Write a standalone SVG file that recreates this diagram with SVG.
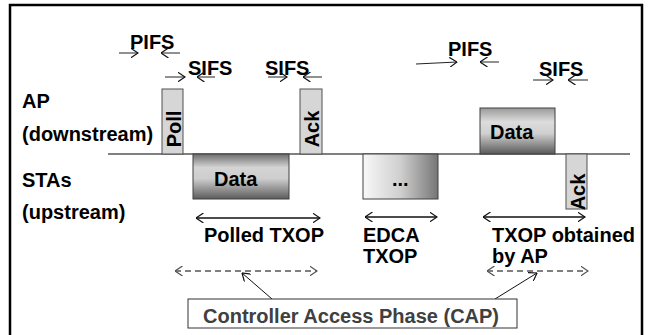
<svg xmlns="http://www.w3.org/2000/svg" width="649" height="335" viewBox="0 0 649 335">
<defs>
<style>
text{font-family:"Liberation Sans",Arial,Helvetica,sans-serif;font-weight:bold;font-size:20px;fill:#000}
.frame{fill:#d6d6d6;stroke:#505050;stroke-width:1}
.grad{stroke:#404040;stroke-width:1}
.tick{stroke:#222;stroke-width:1;fill:none}
.span{stroke:#111;stroke-width:1.3;fill:none}
.dash{stroke:#555;stroke-width:1.6;stroke-dasharray:6 4;fill:none}
.ptr{stroke:#111;stroke-width:1;fill:none}
</style>
<linearGradient id="gV" x1="0" y1="0" x2="0" y2="1">
<stop offset="0" stop-color="#6e6e6e"/>
<stop offset="0.3" stop-color="#d4d4d4"/>
<stop offset="0.55" stop-color="#cdcdcd"/>
<stop offset="1" stop-color="#5c5c5c"/>
</linearGradient>
<linearGradient id="gV2" x1="0" y1="0" x2="0" y2="1">
<stop offset="0" stop-color="#9a9a9a"/>
<stop offset="0.3" stop-color="#dcdcdc"/>
<stop offset="0.55" stop-color="#d0d0d0"/>
<stop offset="1" stop-color="#5a5a5a"/>
</linearGradient>
<linearGradient id="gH" x1="0" y1="0" x2="1" y2="0">
<stop offset="0" stop-color="#f8f8f8"/>
<stop offset="0.5" stop-color="#cfcfcf"/>
<stop offset="1" stop-color="#767676"/>
</linearGradient>
<marker id="ah" viewBox="0 0 8 10" refX="7.5" refY="5" markerWidth="8" markerHeight="10" markerUnits="userSpaceOnUse" orient="auto-start-reverse">
<path d="M0,0 L7.5,5 L0,10" fill="none" stroke="#111" stroke-width="1.2"/>
</marker>
<marker id="ahg" viewBox="0 0 8 10" refX="7.5" refY="5" markerWidth="8" markerHeight="10" markerUnits="userSpaceOnUse" orient="auto-start-reverse">
<path d="M0,0 L7.5,5 L0,10" fill="none" stroke="#555" stroke-width="1.3"/>
</marker>
</defs>
<rect x="0" y="0" width="649" height="335" fill="#fff"/>
<path d="M10,340 L10,5 L642,5 L642,340" fill="none" stroke="#000" stroke-width="2.5"/>

<g id="labels">
<text x="22" y="108">AP</text>
<text x="22" y="141">(downstream)</text>
<text x="22" y="187">STAs</text>
<text x="22" y="219">(upstream)</text>
</g>

<g id="timeline">
<line x1="108" y1="154" x2="630" y2="154" stroke="#808080" stroke-width="2"/>
</g>

<g id="poll">
<rect class="frame" x="162" y="89" width="21" height="65"/>
<text transform="translate(181,129) rotate(-90)" text-anchor="middle">Poll</text>
</g>
<g id="ack-ap">
<rect class="frame" x="300" y="89" width="22" height="65"/>
<text transform="translate(319,129) rotate(-90)" text-anchor="middle">Ack</text>
</g>
<g id="data-sta">
<rect class="grad" x="193" y="154" width="96" height="45" fill="url(#gV)"/>
<text x="214" y="186">Data</text>
</g>
<g id="edca">
<rect class="grad" x="363" y="154" width="75" height="45" fill="url(#gH)"/>
<text x="392" y="186">...</text>
</g>
<g id="data-ap">
<rect class="grad" x="480" y="108" width="75" height="46" fill="url(#gV2)"/>
<text x="490" y="139">Data</text>
</g>
<g id="ack-sta">
<rect class="frame" x="566" y="154" width="21" height="55"/>
<text transform="translate(585,192) rotate(-90)" text-anchor="middle">Ack</text>
</g>

<g id="timing-labels">
<text x="130" y="49">PIFS</text>
<text x="188" y="75">SIFS</text>
<text x="265" y="75">SIFS</text>
<text x="448" y="56">PIFS</text>
<text x="539" y="76">SIFS</text>
</g>

<g id="connectors">
<line class="tick" x1="119" y1="53" x2="138" y2="53" marker-end="url(#ah)"/>
<line class="tick" x1="180" y1="53" x2="161" y2="53" marker-end="url(#ah)"/>
<line class="tick" x1="165" y1="77" x2="185" y2="77" marker-end="url(#ah)"/>
<line class="tick" x1="215" y1="77" x2="197" y2="77" marker-end="url(#ah)"/>
<line class="tick" x1="268" y1="77" x2="287" y2="77" marker-end="url(#ah)"/>
<line class="tick" x1="322" y1="77" x2="303" y2="77" marker-end="url(#ah)"/>
<line class="tick" x1="416" y1="64" x2="457" y2="62" marker-end="url(#ah)"/>
<line class="tick" x1="499" y1="62" x2="480" y2="62" marker-end="url(#ah)"/>
<line class="tick" x1="533" y1="80" x2="553" y2="80" marker-end="url(#ah)"/>
<line class="tick" x1="588" y1="80" x2="568" y2="80" marker-end="url(#ah)"/>

<line class="span" x1="196" y1="218" x2="320" y2="218" marker-start="url(#ah)" marker-end="url(#ah)"/>
<line class="span" x1="365" y1="217" x2="437" y2="217" marker-start="url(#ah)" marker-end="url(#ah)"/>
<line class="span" x1="483" y1="217" x2="585" y2="217" marker-start="url(#ah)" marker-end="url(#ah)"/>

<line class="dash" x1="175" y1="271" x2="317" y2="271" marker-start="url(#ahg)" marker-end="url(#ahg)"/>
<line class="dash" x1="487" y1="271" x2="588" y2="271" marker-start="url(#ahg)" marker-end="url(#ahg)"/>

<line class="ptr" x1="272" y1="299" x2="242" y2="273" marker-end="url(#ah)"/>
<line class="ptr" x1="495" y1="299" x2="537" y2="273" marker-end="url(#ah)"/>
</g>

<g id="span-labels">
<text x="204" y="242">Polled TXOP</text>
<text x="363" y="242">EDCA</text>
<text x="363" y="263">TXOP</text>
<text x="492" y="242">TXOP obtained</text>
<text x="492" y="263">by AP</text>
</g>

<g id="cap">
<rect x="188" y="299" width="329" height="29" fill="#fff" stroke="#333" stroke-width="1"/>
<text x="203" y="323" style="fill:#404040">Controller Access Phase (CAP)</text>
</g>
</svg>
